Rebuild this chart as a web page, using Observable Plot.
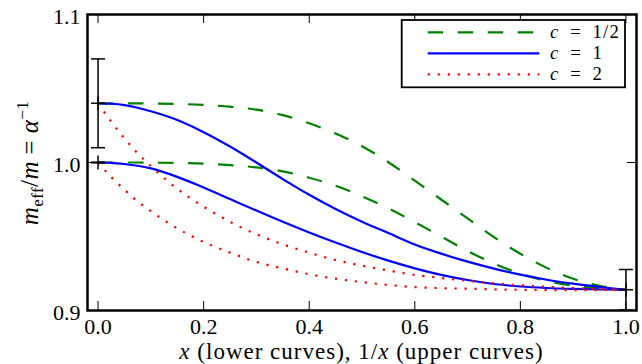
<!DOCTYPE html>
<html>
<head>
<meta charset="utf-8">
<script src="https://cdn.jsdelivr.net/npm/d3@7"></script>
<script src="https://cdn.jsdelivr.net/npm/@observablehq/plot@0.6"></script>
<style>
  html, body { margin: 0; padding: 0; background: white; }
</style>
</head>
<body>
<div id="chart"></div>
<script>
// ---- data ----
const xGrid = [0, 0.025, 0.05, 0.075, 0.1, 0.15, 0.2, 0.25, 0.3, 0.35, 0.4, 0.45, 0.5, 0.55, 0.6, 0.65, 0.7, 0.75, 0.8, 0.85, 0.9, 0.95, 1.0];

const greenUpper = [1.040, 1.040, 1.040, 1.040, 1.0399, 1.0396, 1.0389, 1.0377, 1.0357, 1.0320, 1.0265, 1.0196, 1.0110, 1.0002, 0.9877, 0.9750, 0.9622, 0.9496, 0.9383, 0.9288, 0.9214, 0.9167, 0.9140];
const greenLower = [1.000, 1.000, 1.000, 1.000, 0.9999, 0.9997, 0.9992, 0.9982, 0.9967, 0.9940, 0.9897, 0.9843, 0.9772, 0.9690, 0.9597, 0.9500, 0.9402, 0.9317, 0.9249, 0.9199, 0.9168, 0.9150, 0.9140];
const blueUpper  = [1.040, 1.0397, 1.0388, 1.0370, 1.0346, 1.0287, 1.0205, 1.0108, 1.0000, 0.9888, 0.9782, 0.9686, 0.9600, 0.9523, 0.9446, 0.9384, 0.9330, 0.9283, 0.9242, 0.9208, 0.9181, 0.9159, 0.9140];
const blueLower  = [1.000, 0.9998, 0.9990, 0.9978, 0.9960, 0.9903, 0.9831, 0.9753, 0.9675, 0.9599, 0.9527, 0.9459, 0.9395, 0.9337, 0.9285, 0.9241, 0.9206, 0.9179, 0.9162, 0.9152, 0.9146, 0.9142, 0.9140];
const redUpper   = [1.040, 1.0275, 1.0163, 1.0062, 0.9976, 0.9822, 0.9701, 0.9599, 0.9515, 0.9447, 0.9391, 0.9341, 0.9303, 0.9270, 0.9241, 0.9220, 0.9201, 0.9184, 0.9170, 0.9160, 0.9152, 0.9146, 0.9140];
const redLower   = [1.000, 0.9901, 0.9816, 0.9737, 0.9671, 0.9555, 0.9463, 0.9391, 0.9328, 0.9284, 0.9245, 0.9215, 0.9192, 0.9173, 0.9158, 0.9151, 0.9147, 0.9143, 0.9140, 0.9138, 0.9137, 0.9138, 0.9140];

const seriesLabels = ["1/2", "1", "2"];
const seriesColors = ["#008000", "#0000ff", "#ff0000"];
const seriesDash   = ["15.5,14.5", null, "2.2,7.8"];

const errX   = [0, 0, 1];
const errMid = [1.04, 1.0, 0.914];
const errLo  = [1.01, 1.0, 0.9003];
const errHi  = [1.07, 1.0, 0.9277];

const xTicks = [0, 0.2, 0.4, 0.6, 0.8, 1.0];
const yTicks = [0.9, 1.0, 1.1];

// ---- build tables ----
function rows(arr, branch) { return xGrid.map((x, i) => ({x, y: arr[i], branch})); }
const green = [...rows(greenUpper, "upper"), ...rows(greenLower, "lower")];
const blue  = [...rows(blueUpper, "upper"), ...rows(blueLower, "lower")];
const red   = [...rows(redUpper, "upper"), ...rows(redLower, "lower")];
const errs  = errX.map((x, i) => ({x, mid: errMid[i], lo: errLo[i], hi: errHi[i]}));

const W = 642, H = 364;
const mL = 87, mR = 6, mT = 14, mB = 54;
const innerW = W - mL - mR, innerH = H - mT - mB;
const tickLen = 9;

const capSymbol = {draw(ctx, size) { const r = Math.sqrt(size / Math.PI); ctx.moveTo(-r, 0); ctx.lineTo(r, 0); }};
const plusSymbol = {draw(ctx, size) { const r = Math.sqrt(size / Math.PI); ctx.moveTo(-r, 0); ctx.lineTo(r, 0); ctx.moveTo(0, -r); ctx.lineTo(0, r); }};

const lineOpts = (color, dash) => ({
  x: "x", y: "y", z: "branch", stroke: color, strokeWidth: 2.2,
  strokeDasharray: dash || undefined, curve: "monotone-x", strokeLinecap: "butt"
});

const svg = Plot.plot({
  width: W, height: H,
  marginLeft: mL, marginRight: mR, marginTop: mT, marginBottom: mB,
  style: {fontFamily: "'Liberation Serif', 'Times New Roman', serif", fontSize: "22px", background: "white", color: "black"},
  x: {domain: [-0.02, 1.02]},
  y: {domain: [0.9, 1.1]},
  marks: [
    Plot.line(green, lineOpts(seriesColors[0], seriesDash[0])),
    Plot.line(blue, lineOpts(seriesColors[1], seriesDash[1])),
    Plot.line(red, lineOpts(seriesColors[2], seriesDash[2])),
    Plot.ruleX(errs, {x: "x", y1: "lo", y2: "hi", stroke: "black", strokeWidth: 1.5}),
    Plot.dot(errs, {x: "x", y: "lo", symbol: capSymbol, r: 7, stroke: "black", strokeWidth: 1.5, fill: "none"}),
    Plot.dot(errs, {x: "x", y: "hi", symbol: capSymbol, r: 7, stroke: "black", strokeWidth: 1.5, fill: "none"}),
    Plot.dot(errs, {x: "x", y: "mid", symbol: plusSymbol, r: 7, stroke: "black", strokeWidth: 1.5, fill: "none"}),
    // inward ticks
    Plot.tickX(xTicks, {x: d => d, insetTop: innerH - tickLen, stroke: "black", strokeWidth: 1}),
    Plot.tickX(xTicks, {x: d => d, insetBottom: innerH - tickLen, stroke: "black", strokeWidth: 1}),
    Plot.tickY(yTicks, {y: d => d, insetRight: innerW - tickLen, stroke: "black", strokeWidth: 1}),
    Plot.tickY(yTicks, {y: d => d, insetLeft: innerW - tickLen, stroke: "black", strokeWidth: 1}),
    Plot.axisX(xTicks, {tickSize: 0, tickPadding: 8, tickFormat: d3.format(".1f"), label: null, fill: "black"}),
    Plot.axisY(yTicks, {tickSize: 0, tickPadding: 7, dy: 2, tickFormat: d3.format(".1f"), label: null, fill: "black"}),
    Plot.frame({stroke: "black", strokeWidth: 2.5})
  ]
});

const s = d3.select(svg);

// x label
const xl = s.append("text")
  .attr("x", mL + innerW / 2).attr("y", 359)
  .attr("text-anchor", "middle").attr("font-size", 23).attr("letter-spacing", "1px").attr("fill", "black");
xl.append("tspan").attr("font-style", "italic").text("x");
xl.append("tspan").text(" (lower curves), 1/");
xl.append("tspan").attr("font-style", "italic").text("x");
xl.append("tspan").text(" (upper curves)");

// y label
const yl = s.append("text")
  .attr("transform", "translate(38,163) rotate(-90)")
  .attr("text-anchor", "middle").attr("font-size", 25).attr("letter-spacing", "0.4px").attr("fill", "black");
yl.append("tspan").attr("font-style", "italic").text("m");
yl.append("tspan").attr("font-size", 17).attr("dy", 5).text("eff");
yl.append("tspan").attr("dy", -5).text("/");
yl.append("tspan").attr("font-style", "italic").text("m");
yl.append("tspan").text(" = ");
yl.append("tspan").attr("font-style", "italic").text("α");
yl.append("tspan").attr("font-size", 17).attr("dy", -10).text("−1");

// legend
const lg = s.append("g");
lg.append("rect").attr("x", 401.7).attr("y", 20).attr("width", 223.3).attr("height", 67.3)
  .attr("fill", "white").attr("stroke", "black").attr("stroke-width", 1.8);
const rowsY = [32.3, 53.3, 74.3];
seriesLabels.forEach((lab, i) => {
  const ln = lg.append("line").attr("x1", 427.7).attr("x2", 539.3).attr("y1", rowsY[i]).attr("y2", rowsY[i])
    .attr("stroke", seriesColors[i]).attr("stroke-width", 2.2);
  if (seriesDash[i]) ln.attr("stroke-dasharray", seriesDash[i]);
  const t = lg.append("text").attr("x", 550).attr("y", rowsY[i] + 6).attr("font-size", 18.8).attr("fill", "black")
    .attr("text-anchor", "start").attr("letter-spacing", "1.2px");
  t.append("tspan").attr("font-style", "italic").text("c");
  t.append("tspan").text("\u2002=\u2002" + lab);
});

document.getElementById("chart").appendChild(svg);
</script>
</body>
</html>
